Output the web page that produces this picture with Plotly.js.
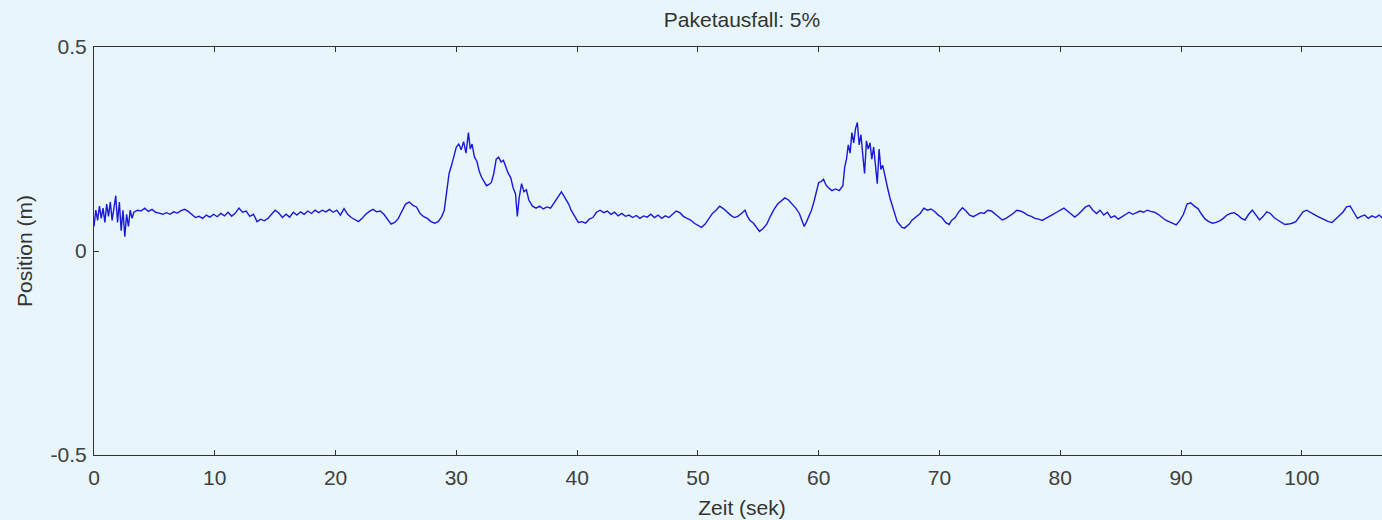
<!DOCTYPE html>
<html>
<head>
<meta charset="utf-8">
<script src="https://cdn.plot.ly/plotly-3.0.1.min.js"></script>
<style>
html,body{margin:0;padding:0;overflow:hidden;background:#e8f5fa;}
#chart{width:1400px;height:520px;}
</style>
</head>
<body>
<div id="chart"></div>
<script>
const chartTitle = "Paketausfall: 5%";
const xTitle = "Zeit (sek)";
const yTitle = "Position (m)";
const xTickVals = [0,10,20,30,40,50,60,70,80,90,100];
const xTickText = ["0","10","20","30","40","50","60","70","80","90","100"];
const yTickVals = [-0.5,0,0.5];
const yTickText = ["-0.5","0","0.5"];

const zeit = [
0,0.15,0.3,0.45,0.6,0.75,0.9,1.05,1.2,1.35,1.5,1.65,1.8,1.95,2.1,2.25,2.4,2.55,2.7,2.85,3.0,3.15,3.3,
3.6,3.9,4.2,4.5,4.8,5.1,5.4,5.7,6.0,6.3,6.6,6.9,7.2,7.5,7.8,8.1,8.4,8.7,9.0,9.3,9.6,9.9,
10.2,10.5,10.8,11.1,11.4,11.7,12.0,12.3,12.6,12.9,13.2,13.5,13.8,14.1,14.4,14.7,15.0,15.3,15.6,15.9,
16.2,16.5,16.8,17.1,17.4,17.7,18.0,18.3,18.6,18.9,19.2,19.5,19.8,20.1,20.4,20.7,21.0,21.3,21.6,21.9,
22.2,22.5,22.8,23.1,23.4,23.7,24.0,24.3,24.6,24.9,25.2,25.5,25.8,26.1,26.4,26.7,27.0,27.3,27.6,27.9,
28.2,28.5,28.8,29.0,29.2,29.4,29.6,29.8,30.0,30.2,30.4,30.6,30.8,31.0,31.15,31.3,31.5,31.7,31.9,32.1,
32.3,32.5,32.7,32.9,33.1,33.3,33.5,33.7,33.9,34.1,34.3,34.5,34.7,34.9,35.05,35.2,35.4,35.6,35.8,36.0,
36.3,36.6,36.9,37.2,37.5,37.8,38.1,38.4,38.7,38.9,39.1,39.3,39.5,39.8,40.1,40.4,40.7,41.0,41.3,41.6,
41.9,42.2,42.5,42.8,43.1,43.4,43.7,44.0,44.3,44.6,44.9,45.2,45.5,45.8,46.1,46.4,46.7,47.0,47.3,47.6,
47.9,48.2,48.5,48.8,49.1,49.4,49.7,50.0,50.3,50.6,50.9,51.2,51.5,51.8,52.1,52.4,52.7,53.0,53.3,53.6,
53.9,54.1,54.3,54.6,54.9,55.1,55.4,55.7,56.0,56.3,56.6,56.9,57.2,57.5,57.8,58.1,58.4,58.6,58.8,59.0,
59.2,59.4,59.6,59.8,60.0,60.2,60.4,60.6,60.8,61.1,61.4,61.7,62.0,62.15,62.3,62.45,62.6,62.75,62.9,63.05,
63.2,63.35,63.5,63.65,63.8,63.95,64.1,64.25,64.4,64.55,64.7,64.85,65.0,65.15,65.3,65.5,65.7,65.9,66.1,66.3,
66.5,66.7,66.9,67.1,67.3,67.5,67.7,67.9,68.1,68.4,68.7,69.0,69.3,69.6,69.9,70.2,70.5,70.8,71.0,71.3,
71.6,71.9,72.2,72.5,72.8,73.1,73.4,73.7,74.0,74.3,74.6,74.9,75.2,75.5,75.8,76.1,76.4,76.7,77.0,77.3,
77.6,77.9,78.2,78.5,78.8,79.1,79.4,79.7,80.0,80.3,80.6,80.9,81.2,81.5,81.8,82.1,82.4,82.7,83.0,83.3,
83.6,83.9,84.2,84.5,84.8,85.1,85.4,85.7,86.0,86.3,86.6,86.9,87.2,87.5,87.8,88.1,88.4,88.7,89.0,89.3,
89.6,89.9,90.2,90.5,90.8,91.1,91.4,91.7,92.0,92.3,92.6,92.9,93.2,93.5,93.8,94.1,94.4,94.7,95.0,95.3,
95.6,95.9,96.2,96.5,96.8,97.1,97.4,97.7,98.0,98.3,98.6,98.9,99.2,99.5,99.8,100.1,100.4,100.7,101.0,101.3,
101.6,101.9,102.2,102.5,102.8,103.1,103.4,103.7,104.0,104.3,104.6,104.9,105.2,105.5,105.8,106.1,106.4,106.7,107.0,107.3
];

const position = [
0.06,0.10,0.075,0.11,0.08,0.105,0.07,0.115,0.085,0.12,0.075,0.11,0.135,0.07,0.12,0.05,0.10,0.035,0.09,0.06,0.10,0.08,0.095,
0.10,0.098,0.105,0.097,0.102,0.095,0.093,0.09,0.094,0.09,0.096,0.093,0.099,0.102,0.097,0.09,0.082,0.085,0.08,0.088,0.083,0.09,
0.084,0.092,0.086,0.095,0.085,0.093,0.105,0.095,0.098,0.085,0.09,0.072,0.078,0.074,0.08,0.09,0.1,0.093,0.082,0.09,
0.083,0.095,0.088,0.096,0.09,0.098,0.092,0.1,0.094,0.1,0.096,0.102,0.095,0.1,0.088,0.104,0.09,0.082,0.078,0.072,
0.08,0.09,0.097,0.102,0.096,0.098,0.09,0.078,0.066,0.07,0.08,0.098,0.115,0.12,0.112,0.108,0.092,0.084,0.08,0.072,
0.068,0.072,0.085,0.1,0.15,0.19,0.21,0.235,0.255,0.262,0.248,0.268,0.24,0.29,0.25,0.262,0.23,0.22,0.195,0.18,
0.168,0.16,0.163,0.168,0.19,0.225,0.23,0.218,0.222,0.205,0.19,0.18,0.155,0.14,0.085,0.13,0.165,0.145,0.15,0.125,
0.11,0.105,0.11,0.103,0.108,0.105,0.118,0.13,0.145,0.135,0.125,0.115,0.1,0.085,0.07,0.072,0.068,0.078,0.082,0.095,
0.1,0.094,0.098,0.09,0.095,0.086,0.092,0.085,0.088,0.082,0.087,0.08,0.086,0.083,0.09,0.082,0.088,0.08,0.086,0.082,
0.09,0.098,0.094,0.085,0.08,0.076,0.068,0.062,0.058,0.066,0.078,0.092,0.1,0.11,0.104,0.095,0.088,0.082,0.085,0.092,
0.1,0.085,0.075,0.068,0.055,0.048,0.055,0.066,0.085,0.102,0.115,0.122,0.13,0.125,0.115,0.105,0.092,0.075,0.06,0.072,
0.085,0.1,0.12,0.145,0.168,0.17,0.176,0.162,0.155,0.148,0.152,0.148,0.16,0.205,0.225,0.26,0.24,0.29,0.265,0.3,
0.315,0.26,0.285,0.235,0.19,0.27,0.25,0.265,0.225,0.255,0.2,0.165,0.25,0.2,0.21,0.18,0.155,0.13,0.11,0.09,
0.072,0.065,0.058,0.056,0.062,0.066,0.075,0.08,0.085,0.092,0.105,0.1,0.103,0.097,0.088,0.082,0.07,0.065,0.075,0.082,
0.096,0.106,0.098,0.088,0.084,0.09,0.094,0.092,0.1,0.098,0.09,0.082,0.076,0.08,0.085,0.092,0.1,0.098,0.094,0.088,
0.085,0.08,0.078,0.075,0.08,0.086,0.09,0.095,0.1,0.105,0.098,0.09,0.083,0.09,0.1,0.108,0.112,0.1,0.092,0.1,
0.088,0.095,0.082,0.086,0.078,0.083,0.088,0.095,0.09,0.094,0.098,0.095,0.1,0.097,0.095,0.09,0.082,0.076,0.072,0.068,
0.064,0.075,0.09,0.115,0.118,0.11,0.104,0.09,0.078,0.072,0.068,0.07,0.074,0.08,0.088,0.092,0.094,0.088,0.08,0.076,
0.09,0.1,0.088,0.076,0.085,0.096,0.092,0.082,0.076,0.07,0.065,0.066,0.068,0.072,0.085,0.096,0.1,0.094,0.09,0.085,
0.08,0.075,0.072,0.07,0.078,0.085,0.095,0.108,0.11,0.095,0.08,0.085,0.088,0.08,0.086,0.082,0.088,0.08,0.085,0.082
];

const bg = "#e8f5fa";
const fontFam = "'Liberation Sans', Arial, sans-serif";
const W = 1400, H = 520;

const trace = {
  x: zeit, y: position, type: "scatter", mode: "lines",
  line: {color: "rgb(25,25,215)", width: 1.4},
  hoverinfo: "skip"
};

const axisCommon = {
  showline: true, linecolor: "#333", linewidth: 1, mirror: "ticks",
  ticks: "inside", ticklen: 5, tickcolor: "#333", tickwidth: 1,
  showgrid: false, zeroline: false,
  tickfont: {family: fontFam, size: 21, color: "#404040"}
};

const layout = {
  width: W, height: H,
  margin: {l: 94, r: 10, t: 47, b: 65},
  paper_bgcolor: bg, plot_bgcolor: bg,
  showlegend: false,
  title: {text: chartTitle, font: {family: fontFam, size: 21, color: "#333"},
          xref: "container", yref: "container", x: 742/W, y: 1 - 20/H,
          xanchor: "center", yanchor: "middle"},
  xaxis: Object.assign({}, axisCommon, {
    range: [0, 107.3], tickvals: xTickVals, ticktext: xTickText,
    ticklabelstandoff: 4,
    title: {text: xTitle, font: {family: fontFam, size: 21, color: "#333"}, standoff: 12}
  }),
  yaxis: Object.assign({}, axisCommon, {
    range: [-0.5, 0.5], tickvals: yTickVals, ticktext: yTickText,
    ticklabelstandoff: 2,
    title: {text: yTitle, font: {family: fontFam, size: 21, color: "#333"}, standoff: 12}
  })
};

Plotly.newPlot("chart", [trace], layout, {staticPlot: true, displayModeBar: false});
</script>
</body>
</html>
